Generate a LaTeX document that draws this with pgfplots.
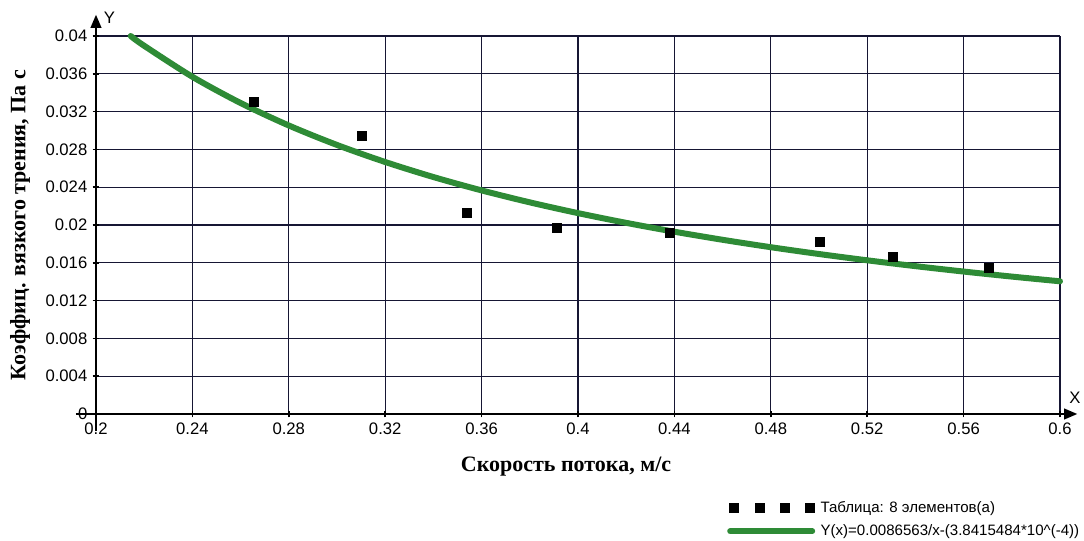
\documentclass[border=0pt]{standalone}
\usepackage{fontspec}
\setmainfont{Liberation Sans}
\newfontfamily\serifbf{Liberation Serif}
\usepackage{pgfplots}
\pgfplotsset{compat=1.18}
\usetikzlibrary{arrows.meta}
\definecolor{curvegreen}{RGB}{46,139,54}
\definecolor{gridnavy}{RGB}{22,22,52}
\begin{document}
\begin{tikzpicture}
\path[use as bounding box] (-72pt,-95.25pt) rectangle (741pt,310.5pt);
\begin{axis}[
  at={(0,0)}, anchor=south west,
  scale only axis, width=723pt, height=283.5pt,
  xmin=0.2, xmax=0.6, ymin=0, ymax=0.04,
  clip=false,
  xtick={0.2,0.24,0.28,0.32,0.36,0.4,0.44,0.48,0.52,0.56,0.6},
  xticklabels={0.2,0.24,0.28,0.32,0.36,0.4,0.44,0.48,0.52,0.56,0.6},
  ytick={0,0.004,0.008,0.012,0.016,0.02,0.024,0.028,0.032,0.036,0.04},
  yticklabels={0,0.004,0.008,0.012,0.016,0.02,0.024,0.028,0.032,0.036,0.04},
  scaled x ticks=false, scaled y ticks=false,
  axis lines=left,
  x axis line style={line width=1.7pt, shorten <=-15pt, shorten >=-13pt, -{Triangle[length=10pt,width=8pt]}},
  y axis line style={line width=1.7pt, shorten <=-13pt, shorten >=-16pt, -{Triangle[length=10pt,width=8pt]}},
  grid=major,
  grid style={gridnavy, line width=1pt},
  tick style={black, line width=1.2pt},
  major tick length=5pt, tick align=center,
  ticklabel style={font=\fontsize{12.5}{14}\selectfont},
  xticklabel style={yshift=-0.5pt},
  yticklabel style={xshift=-0.5pt},
  xlabel={\serifbf\bfseries Скорость потока, м/с},
  ylabel={\serifbf\bfseries Коэффиц. вязкого трения, Па с},
  label style={font=\fontsize{16.5}{18}\selectfont},
  xlabel style={at={(axis description cs:0.4876,-0.140)}, anchor=center},
  ylabel style={at={(axis description cs:-0.0788,0.5)}, anchor=center},
  legend style={at={(axis description cs:0.6545,-0.226)}, anchor=north west,
    draw=none, fill=none, inner sep=0pt, row sep=6pt,
    font=\fontsize{11.3}{13}\selectfont,
    nodes={inner sep=1pt}},
  legend cell align=left,
]
\addplot[only marks, mark=square*, mark size=3.4pt, black,
  legend image code/.code={\foreach \i in {0,1,2,3}{\fill[black] (\i*19pt,-3.4pt) rectangle ++(6.8pt,6.8pt);}\path (65pt,0pt);}]
  coordinates {(0.2656,0.0330)(0.3104,0.02942)(0.3540,0.02127)(0.3913,0.01968)(0.4380,0.0192)(0.5004,0.0182)(0.5307,0.01665)(0.5704,0.01552)};
\addlegendentry{Таблица: 8 элементов(а)}
\addplot[curvegreen, line width=4.5pt, line cap=round, smooth,
  legend image code/.code={\draw[curvegreen, line width=4.5pt] (0.5pt,0pt) -- (62pt,0pt);\path (65pt,0pt);}]
  coordinates {(0.2144,0.0400)(0.22,0.038963)(0.24,0.035684)(0.26,0.032909)(0.28,0.030531)(0.30,0.028470)(0.32,0.026667)(0.34,0.025076)(0.36,0.023661)(0.38,0.022396)(0.40,0.021257)(0.42,0.020226)(0.44,0.019289)(0.46,0.018434)(0.48,0.017650)(0.50,0.016929)(0.52,0.016263)(0.54,0.015646)(0.56,0.015074)(0.58,0.014541)(0.60,0.014043)};
\addlegendentry{Y(x)=0.0086563/x-(3.8415484*10\^{}(-4))}
\node[anchor=west, font=\fontsize{12.5}{14}\selectfont, inner sep=0pt] at (axis description cs:0.008,1.048) {Y};
\node[anchor=center, font=\fontsize{12.5}{14}\selectfont, inner sep=0pt] at (axis description cs:1.0156,0.042) {X};
\end{axis}
\end{tikzpicture}
\end{document}
